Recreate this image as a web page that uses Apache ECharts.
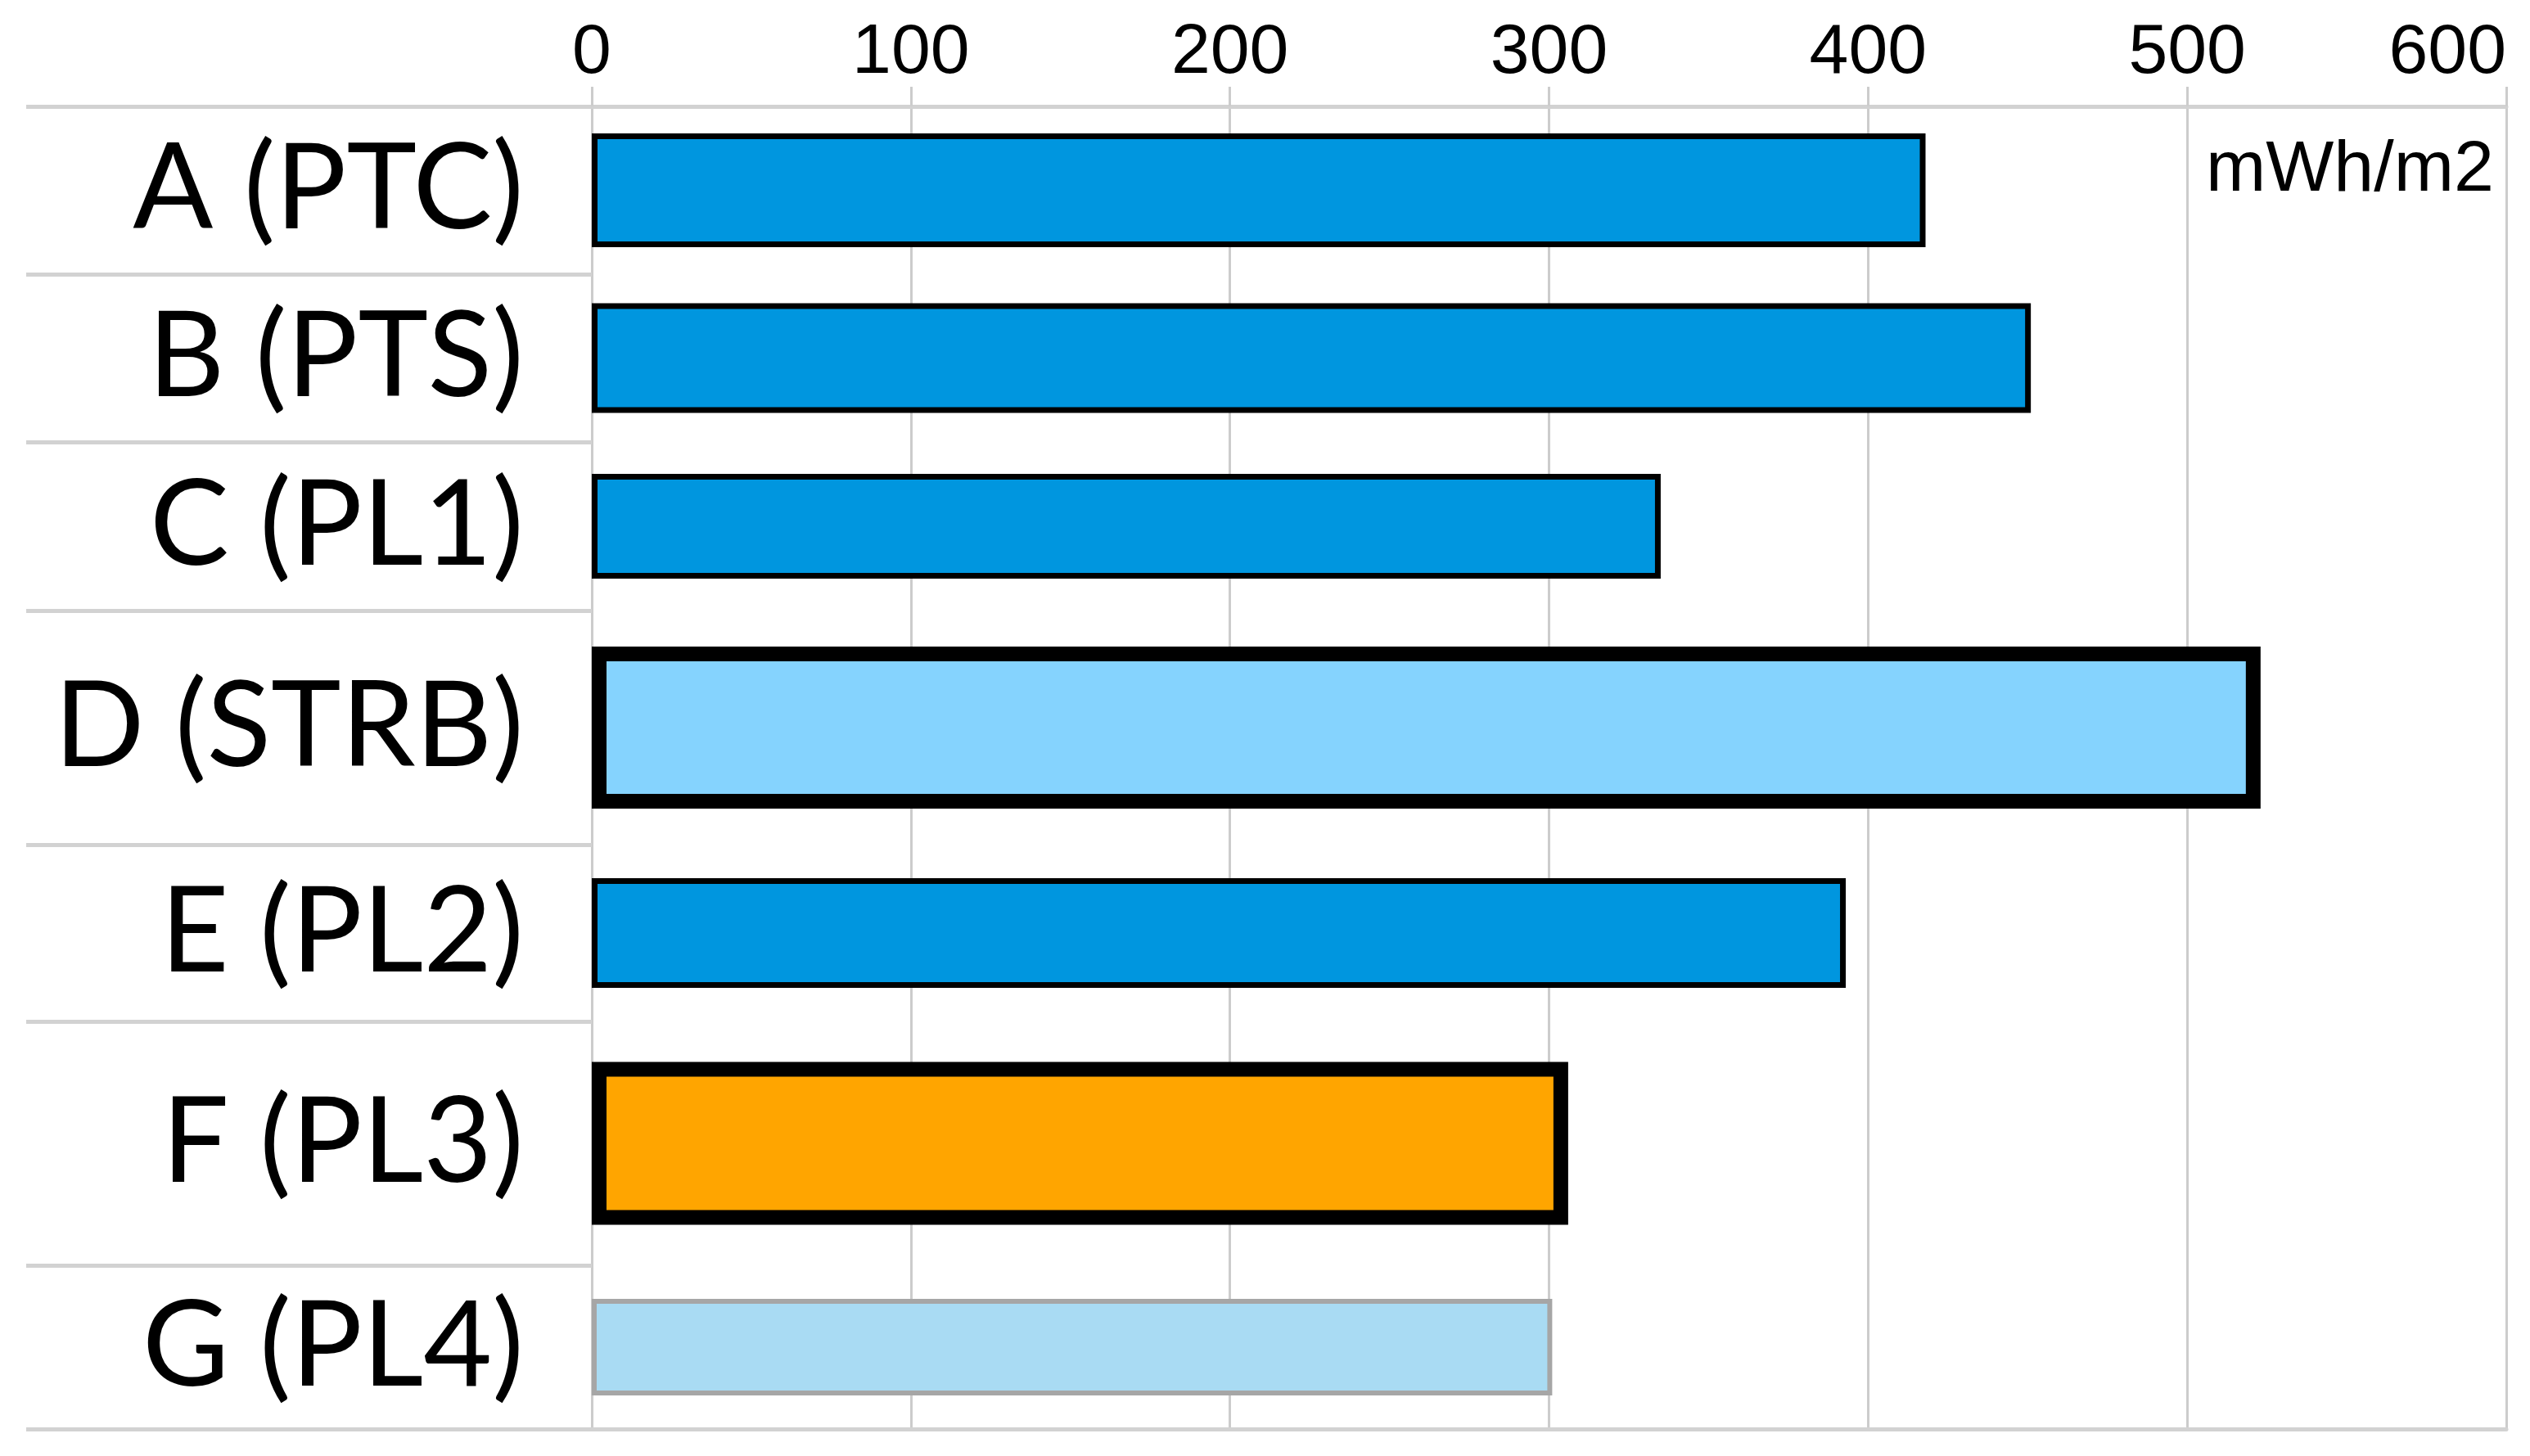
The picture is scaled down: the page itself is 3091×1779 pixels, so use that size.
<!DOCTYPE html>
<html>
<head>
<meta charset="utf-8">
<script src="https://cdn.jsdelivr.net/npm/echarts@6/dist/echarts.min.js"></script>
<style>
html,body{margin:0;padding:0;background:#fff;}
#chart{width:3091px;height:1779px;}
</style>
</head>
<body>
<div id="chart"></div>
<script>
// ---- data ----
const categories = ['A (PTC)', 'B (PTS)', 'C (PL1)', 'D (STRB)', 'E (PL2)', 'F (PL3)', 'G (PL4)'];
const values = [418, 451, 335, 523, 393, 306, 301];
const tickLabels = [0, 100, 200, 300, 400, 500, 600];
const unitLabel = 'mWh/m2';

// ---- layout & styles (kept apart from data) ----
const rowEdges = [130, 335, 540, 746, 1032, 1248, 1546, 1746];
const barWidths = [139, 134, 128, 198, 134, 199, 118];
const barStyles = [
  {color: '#0096DF', borderColor: '#000000', borderWidth: 7},
  {color: '#0096DF', borderColor: '#000000', borderWidth: 7},
  {color: '#0096DF', borderColor: '#000000', borderWidth: 7},
  {color: '#85D3FE', borderColor: '#000000', borderWidth: 18},
  {color: '#0096DF', borderColor: '#000000', borderWidth: 7},
  {color: '#FFA500', borderColor: '#000000', borderWidth: 18},
  {color: '#A9DBF3', borderColor: '#A6A6A6', borderWidth: 6}
];
const plotLeft = 723, plotRight = 29, labelLeft = 32;
const gridColor = '#CCCCCC', sepColor = '#D2D2D2';

const chart = echarts.init(document.getElementById('chart'), null, {renderer: 'canvas'});
const n = categories.length;
const grids = [], xAxes = [], yAxes = [], series = [];
const tMin = tickLabels[0], tMax = tickLabels[tickLabels.length - 1];
const tInt = tickLabels[1] - tickLabels[0];

for (let i = 0; i < n; i++) {
  grids.push({left: plotLeft, right: plotRight, top: rowEdges[i], height: rowEdges[i + 1] - rowEdges[i], containLabel: false});
  xAxes.push({
    gridIndex: i, type: 'value', min: tMin, max: tMax, interval: tInt,
    position: i === n - 1 ? 'bottom' : 'top',
    axisLine: {show: i === 0 || i === n - 1, lineStyle: {color: sepColor, width: 5}},
    axisTick: {show: i === 0, length: 24, lineStyle: {color: gridColor, width: 3}},
    axisLabel: {show: i === 0, fontSize: 86, fontFamily: 'Liberation Sans, Arial, sans-serif', color: '#000', margin: 22, alignMaxLabel: 'right'},
    splitLine: {show: true, lineStyle: {color: gridColor, width: 3}}
  });
  yAxes.push({
    gridIndex: i, type: 'category', data: [categories[i]], inverse: true,
    axisLine: {show: false},
    axisTick: {show: true, length: plotLeft - labelLeft, lineStyle: {color: sepColor, width: 5}},
    axisLabel: {fontSize: 145, fontFamily: 'Lato, "Noto Sans", sans-serif', color: '#000', margin: 83}
  });
  series.push({
    type: 'bar', xAxisIndex: i, yAxisIndex: i, barWidth: barWidths[i],
    data: [{value: values[i], itemStyle: barStyles[i]}],
    silent: true
  });
}

chart.setOption({
  animation: false,
  backgroundColor: '#ffffff',
  title: {
    text: unitLabel, left: 2690, top: 160,
    textStyle: {fontSize: 88, fontWeight: 'normal', fontFamily: 'Liberation Sans, Arial, sans-serif', color: '#000'}
  },
  grid: grids, xAxis: xAxes, yAxis: yAxes, series: series
});
</script>
</body>
</html>
